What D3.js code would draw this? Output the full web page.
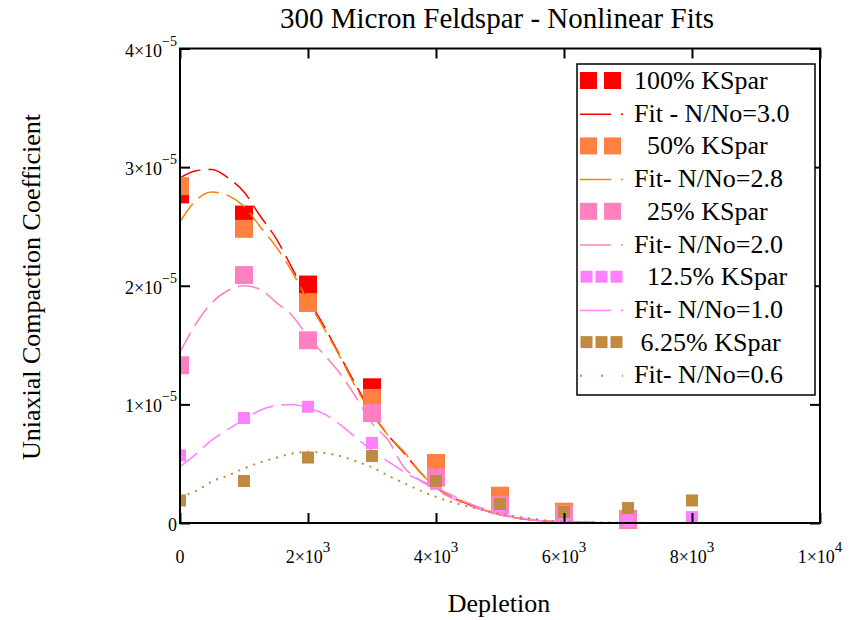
<!DOCTYPE html>
<html>
<head>
<meta charset="utf-8">
<script src="https://cdn.jsdelivr.net/npm/d3@7"></script>
<style>
  body { margin: 0; background: #fff; }
  text { font-family: "Liberation Serif", "Times New Roman", serif; fill: #000; }
  .leg { white-space: pre; }
</style>
</head>
<body>
<div id="chart"></div>
<script>
// data (values in units of 1e-5)
var depth = [0, 1000, 2000, 3000, 4000, 5000, 6000, 7000, 8000];
var k100 = [2.77, 2.60, 2.01, 1.144, 0.45, 0.20, 0.09, 0.03];
var k50 = [2.84, 2.48, 1.855, 1.054, 0.506, 0.23, 0.095, 0.03];
var k25 = [1.33, 2.09, 1.54, 0.927, 0.384, 0.15, 0.076, 0.03];
var k12 = [0.57, 0.885, 0.98, 0.675, 0.33, 0.127, 0.05, 0.02, 0.05];
var k6 = [0.19, 0.354, 0.552, 0.565, 0.354, 0.16, 0.093, 0.126, 0.19];

var fitX = [0, 250, 500, 750, 1000, 1250, 1500, 1750, 2000, 2250, 2500, 2750, 3000,
  3250, 3500, 3750, 4000, 4500, 5000, 5500, 6000, 7000, 8000, 9000, 10000];
var fit30 = [2.91, 2.97, 2.98, 2.91, 2.79, 2.59, 2.40, 2.15, 1.89, 1.66, 1.41, 1.16, 0.93,
  0.74, 0.59, 0.43, 0.30, 0.16, 0.07, 0.025, 0.008, 0.001, 0, 0, 0];
var fit28 = [2.54, 2.72, 2.79, 2.76, 2.67, 2.50, 2.33, 2.12, 1.87, 1.64, 1.40, 1.14, 0.92,
  0.74, 0.60, 0.43, 0.30, 0.165, 0.07, 0.025, 0.008, 0.001, 0, 0, 0];
var fit20 = [1.44, 1.68, 1.86, 1.96, 2.0, 1.97, 1.86, 1.75, 1.57, 1.42, 1.26, 1.06, 0.84,
  0.70, 0.47, 0.36, 0.28, 0.15, 0.07, 0.025, 0.01, 0, 0, 0, 0];
var fit10 = [0.475, 0.58, 0.70, 0.79, 0.87, 0.95, 0.99, 1.0, 0.97, 0.92, 0.83, 0.72, 0.61,
  0.52, 0.43, 0.36, 0.30, 0.17, 0.08, 0.03, 0.01, 0, 0, 0, 0];
var fit06 = [0.222, 0.27, 0.35, 0.40, 0.46, 0.51, 0.55, 0.585, 0.60, 0.59, 0.565, 0.52, 0.47,
  0.40, 0.335, 0.275, 0.22, 0.14, 0.08, 0.035, 0.012, 0.002, 0, 0, 0];

var pointNames = ["100% KSpar", "  50% KSpar", "  25% KSpar", "  12.5% KSpar", " 6.25% KSpar"];
var fitNames = ["Fit - N/No=3.0", "Fit- N/No=2.8", "Fit- N/No=2.0", "Fit- N/No=1.0", "Fit- N/No=0.6"];

var xTicks = [0, 2000, 4000, 6000, 8000, 10000];
var xTickText = ["0", "2\u00d710", "4\u00d710", "6\u00d710", "8\u00d710", "1\u00d710"];
var xTickExp = ["", "3", "3", "3", "3", "4"];
var yTicks = [0, 1e-5, 2e-5, 3e-5, 4e-5];
var yTickText = ["0", "1\u00d710", "2\u00d710", "3\u00d710", "4\u00d710"];
var yTickExp = ["", "\u22125", "\u22125", "\u22125", "\u22125"];

// styles
var pointColors = ["#ff0000", "#ff8040", "#ff80c0", "#ff80ff", "#c08a40"];
var lineColors = ["#ff0000", "#ff8000", "#ff80c0", "#ff80ff", "#c08a40"];
var markSize = [18, 18, 18, 12, 12];
var dashes = ["22,8", "22,8", "22,8", "22,8", "2,6"];

var svgWidth = 859;
var svgHeight = 620;
var plot = { left: 180, right: 820, top: 48.5, bottom: 523 };

var svg = d3.select("#chart")
  .append("svg")
  .attr("width", svgWidth)
  .attr("height", svgHeight);

var x = d3.scaleLinear().domain([0, 10000]).range([plot.left, plot.right]);
var y = d3.scaleLinear().domain([0, 4e-5]).range([plot.bottom, plot.top]);

svg.append("clipPath").attr("id", "clip")
  .append("rect")
  .attr("x", plot.left).attr("y", plot.top - 10)
  .attr("width", plot.right - plot.left).attr("height", plot.bottom - plot.top + 20);

var series = [k100, k50, k25, k12, k6];
var fits = [fit30, fit28, fit20, fit10, fit06];

var line = d3.line()
  .x(function(d, i) { return x(fitX[i]); })
  .y(function(d) { return y(d * 1e-5); })
  .curve(d3.curveMonotoneX);

var marks = svg.append("g").attr("clip-path", "url(#clip)");

// points then fit, same order as the legend
series.forEach(function(vals, s) {
  var sz = markSize[s];
  marks.append("g").selectAll("rect")
    .data(vals)
    .enter()
    .append("rect")
    .attr("x", function(d, i) { return x(depth[i]) - sz / 2; })
    .attr("y", function(d) { return y(d * 1e-5) - sz / 2; })
    .attr("width", sz)
    .attr("height", sz)
    .attr("fill", pointColors[s]);

  marks.append("path")
    .attr("d", line(fits[s]))
    .attr("fill", "none")
    .attr("stroke", lineColors[s])
    .attr("stroke-width", s == 4 ? 2 : 1.5)
    .attr("stroke-dasharray", dashes[s]);
});

// ticks (inward on all four sides)
function tickStyle(g) {
  g.select(".domain").remove();
  g.selectAll(".tick line").attr("stroke", "#000").attr("stroke-width", 2);
}
svg.append("g").attr("transform", "translate(0," + plot.bottom + ")")
  .call(d3.axisBottom(x).tickValues(xTicks).tickSize(-10).tickFormat("")).call(tickStyle);
svg.append("g").attr("transform", "translate(0," + plot.top + ")")
  .call(d3.axisTop(x).tickValues(xTicks).tickSize(-10).tickFormat("")).call(tickStyle);
svg.append("g").attr("transform", "translate(" + plot.left + ",0)")
  .call(d3.axisLeft(y).tickValues(yTicks).tickSize(-10).tickFormat("")).call(tickStyle);
svg.append("g").attr("transform", "translate(" + plot.right + ",0)")
  .call(d3.axisRight(y).tickValues(yTicks).tickSize(-10).tickFormat("")).call(tickStyle);

svg.append("rect")
  .attr("x", plot.left).attr("y", plot.top)
  .attr("width", plot.right - plot.left).attr("height", plot.bottom - plot.top)
  .attr("fill", "none").attr("stroke", "#000").attr("stroke-width", 2);

// tick labels with exponents
var xLab = svg.selectAll(".xlab")
  .data(xTicks)
  .enter()
  .append("text")
  .attr("class", "xlab")
  .attr("x", function(d) { return x(d); })
  .attr("y", 563)
  .attr("text-anchor", "middle")
  .attr("font-size", 18);
xLab.append("tspan").text(function(d, i) { return xTickText[i]; });
xLab.append("tspan").attr("dy", -11).attr("font-size", 15).text(function(d, i) { return xTickExp[i]; });

var yLab = svg.selectAll(".ylab")
  .data(yTicks)
  .enter()
  .append("text")
  .attr("class", "ylab")
  .attr("x", 177)
  .attr("y", function(d) { return y(d) + 8; })
  .attr("text-anchor", "end")
  .attr("font-size", 18);
yLab.append("tspan").text(function(d, i) { return yTickText[i]; });
yLab.append("tspan").attr("dy", -11).attr("font-size", 14).text(function(d, i) { return yTickExp[i]; });

// titles
svg.append("text")
  .attr("x", 497).attr("y", 28)
  .attr("text-anchor", "middle")
  .attr("font-size", 29)
  .text("300 Micron Feldspar - Nonlinear Fits");

svg.append("text")
  .attr("x", 499).attr("y", 612)
  .attr("text-anchor", "middle")
  .attr("font-size", 26)
  .text("Depletion");

svg.append("text")
  .attr("transform", "translate(40,287) rotate(-90)")
  .attr("text-anchor", "middle")
  .attr("font-size", 26)
  .text("Uniaxial Compaction Coefficient");

// legend
var legend = svg.append("g");
legend.append("rect")
  .attr("x", 577).attr("y", 64)
  .attr("width", 238).attr("height", 331)
  .attr("fill", "#fff").attr("stroke", "#000").attr("stroke-width", 1.5);

pointNames.forEach(function(name, s) {
  var base = 89 + 32.7 * (2 * s);
  var sz = markSize[s] == 18 ? 17 : 12;
  var xs = markSize[s] == 18 ? [580, 604] : [580.5, 595.5, 610.5];
  xs.forEach(function(px) {
    legend.append("rect")
      .attr("x", px).attr("y", base - 8.5 - sz / 2)
      .attr("width", sz).attr("height", sz)
      .attr("fill", pointColors[s]);
  });
  legend.append("text").attr("class", "leg")
    .attr("x", 634).attr("y", base)
    .attr("font-size", 26)
    .text(name);

  var base2 = base + 32.7;
  legend.append("line")
    .attr("x1", 580).attr("x2", 623)
    .attr("y1", base2 - 7.5).attr("y2", base2 - 7.5)
    .attr("stroke", lineColors[s])
    .attr("stroke-width", s == 4 ? 2 : 1.5)
    .attr("stroke-dasharray", s == 4 ? "2,19" : "31,10");
  legend.append("text").attr("class", "leg")
    .attr("x", 634).attr("y", base2)
    .attr("font-size", 26)
    .text(fitNames[s]);
});
</script>
</body>
</html>
